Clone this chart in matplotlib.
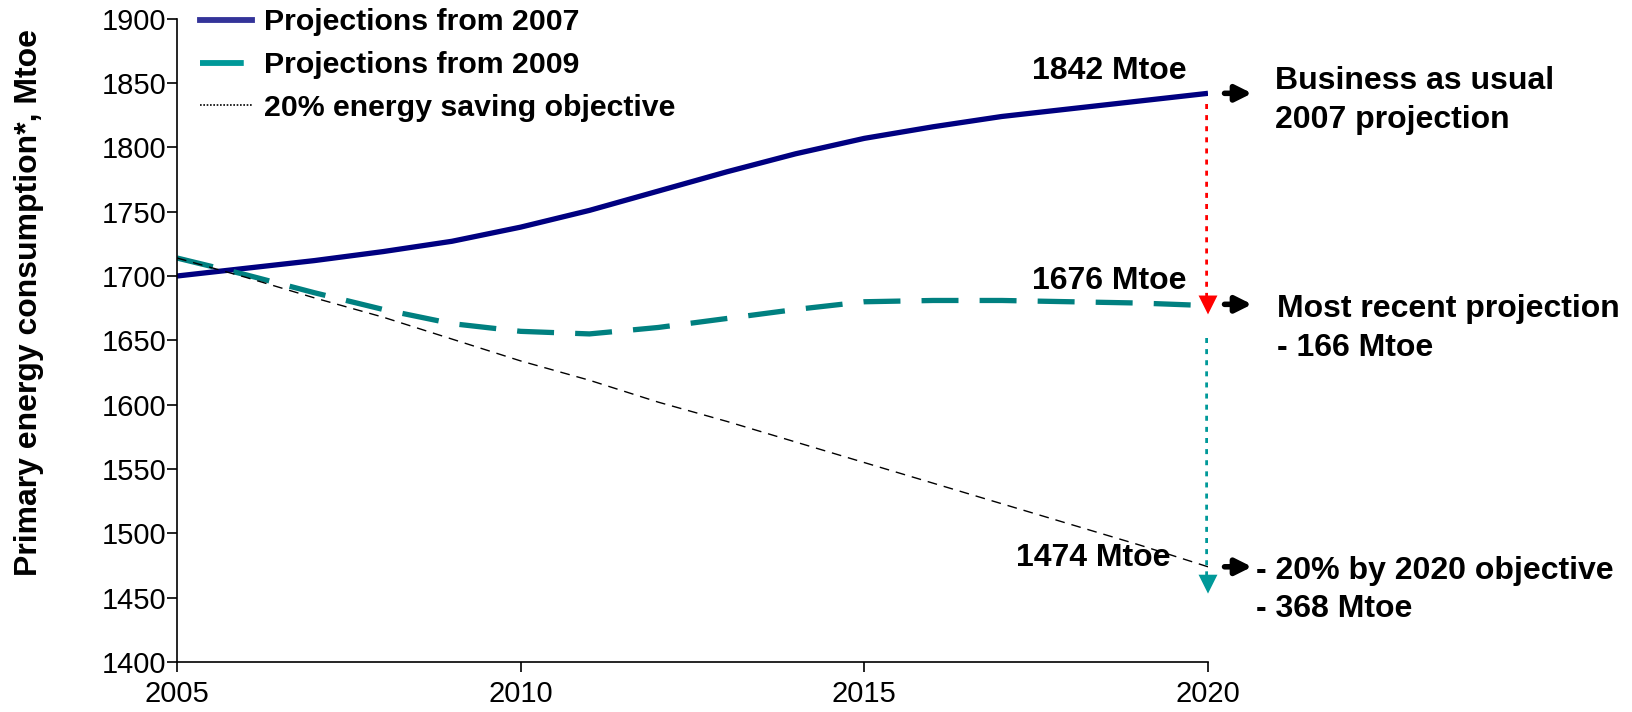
import matplotlib
matplotlib.use("Agg")
import matplotlib.pyplot as plt
from matplotlib.lines import Line2D

plt.rcParams['font.family'] = ['Liberation Sans', 'DejaVu Sans']

years = list(range(2005, 2021))
proj_2007 = [1700, 1706, 1712, 1719, 1727, 1738, 1751, 1766, 1781, 1795, 1807,
             1816, 1824, 1830, 1836, 1842]
proj_2009 = [1714, 1701, 1687, 1674, 1663, 1657, 1655, 1660, 1667, 1674, 1680,
             1681, 1681, 1680, 1679, 1677]
objective = [1714, 1699, 1683, 1668, 1651, 1634, 1619, 1602, 1587, 1571, 1555,
             1539, 1523, 1507, 1491, 1474]

bau_2020 = 1842
recent_2020 = 1676
target_2020 = 1474
gap_recent = 166
gap_target = 368

W, H = 1632, 712
fig = plt.figure(figsize=(W / 100, H / 100), dpi=100)
ax = fig.add_axes([177 / W, 1 - 662 / H, (1208 - 177) / W, (662 - 18.7) / H])

ax.plot(years, proj_2007, color='#000080', lw=3.8, solid_capstyle='butt')
ax.plot(years, proj_2009, color='#008080', lw=3.8, dashes=(7, 4))
ax.plot(years, objective, color='black', lw=1.0, dashes=(7, 5))

ax.set_xlim(2005, 2020)
ax.set_ylim(1400, 1900)
ax.set_xticks([2005, 2010, 2015, 2020])
ax.set_yticks(range(1400, 1901, 50))
ax.tick_params(axis='both', direction='out', length=7, width=1.2, labelsize=21, pad=0.5)
ax.tick_params(axis='x', pad=6)
for s in ['top', 'right']:
    ax.spines[s].set_visible(False)
for s in ['left', 'bottom']:
    ax.spines[s].set_linewidth(1.2)

# arrows at 2020
x_end = years[-1]
ax.plot([x_end, x_end], [bau_2020 - 8, recent_2020 + 8], color='red', lw=4,
        dashes=(0.9, 1.1), solid_capstyle='butt')
ax.annotate('', xy=(x_end, recent_2020 - 8), xytext=(x_end, recent_2020 + 4),
            arrowprops=dict(arrowstyle='-|>', color='red', lw=0, mutation_scale=34))
ax.plot([x_end, x_end], [recent_2020 - 24, 1462], color='#009999', lw=4,
        dashes=(0.9, 1.1), solid_capstyle='butt')
ax.annotate('', xy=(x_end, 1451), xytext=(x_end, 1463),
            arrowprops=dict(arrowstyle='-|>', color='#009999', lw=0, mutation_scale=34))

for v in [bau_2020, 1678, target_2020]:
    ax.annotate('', xy=(2020.68, v), xytext=(2020.2, v), annotation_clip=False,
                arrowprops=dict(arrowstyle='-|>', color='black', lw=4, mutation_scale=24))

bold = dict(fontweight='bold', fontsize=23)
ax.text(2018.57, bau_2020 + 17, '%d Mtoe' % bau_2020, ha='center', va='center', **bold)
ax.text(2018.57, recent_2020 + 20, '%d Mtoe' % recent_2020, ha='center', va='center', **bold)
ax.text(2019.45, target_2020 + 7, '%d Mtoe' % target_2020, ha='right', va='center', **bold)

fig.text(1275 / W, 1 - 81 / H, 'Business as usual', ha='left', va='center', **bold)
fig.text(1275 / W, 1 - 120 / H, '2007 projection', ha='left', va='center', **bold)
fig.text(1277 / W, 1 - 309 / H, 'Most recent projection', ha='left', va='center', **bold)
fig.text(1277 / W, 1 - 348 / H, '- %d Mtoe' % gap_recent, ha='left', va='center', **bold)
fig.text(1256 / W, 1 - 571 / H, '- 20% by 2020 objective', ha='left', va='center', **bold)
fig.text(1256 / W, 1 - 609 / H, '- %d Mtoe' % gap_target, ha='left', va='center', **bold)

fig.text(29 / W, 1 - 303 / H, 'Primary energy consumption*, Mtoe', rotation=90,
         ha='center', va='center', fontweight='bold', fontsize=23)

handles = [
    Line2D([], [], color='#333399', lw=4.2),
    Line2D([], [], color='#009999', lw=4.2, linestyle=(0, (7.5, 2.2, 1.8, 2.2))),
    Line2D([], [], color='black', lw=1.2, linestyle=(0, (1, 1))),
]
labels = ['Projections from 2007', 'Projections from 2009', '20% energy saving objective']
leg = ax.legend(handles, labels, loc='upper left', bbox_to_anchor=(0.011, 1.035), frameon=False,
                prop=dict(weight='bold', size=21.8), handlelength=1.7, handletextpad=0.4,
                labelspacing=0.49, borderaxespad=0)

fig.savefig('out.png', dpi=100)
